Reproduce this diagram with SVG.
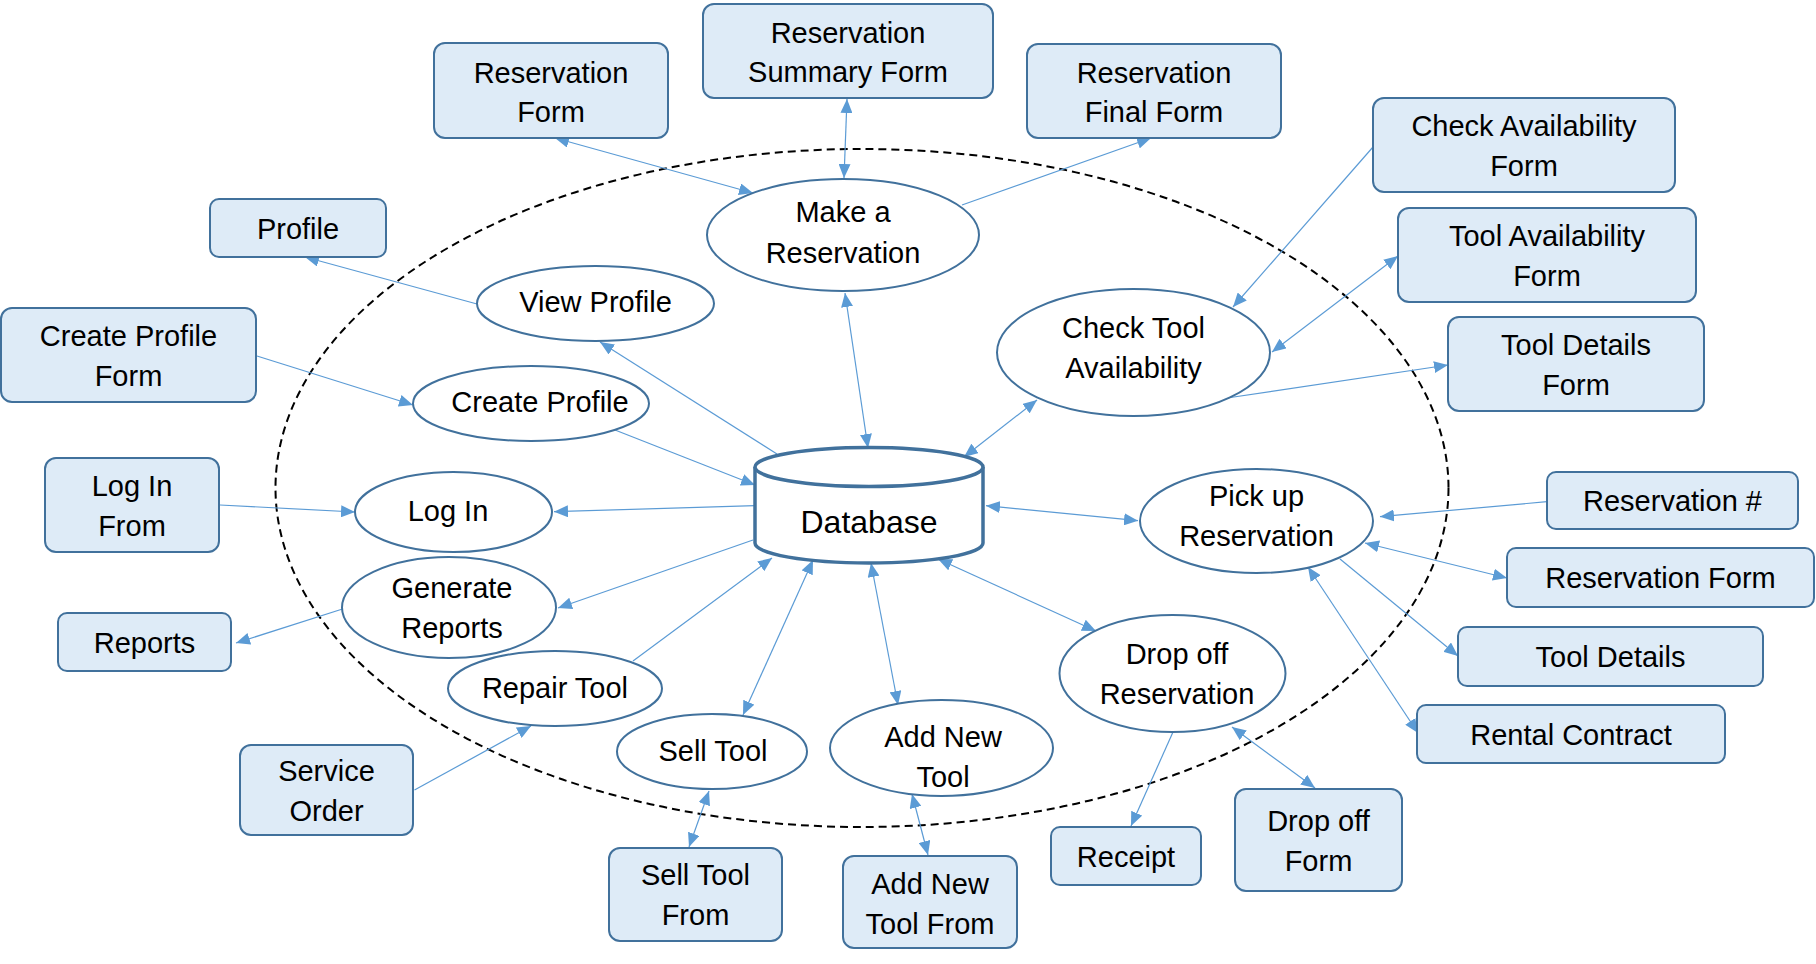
<svg xmlns="http://www.w3.org/2000/svg" width="1816" height="964" viewBox="0 0 1816 964">
<style>
.box{fill:#DEEBF7;stroke:#41719C;stroke-width:2}
.ell{fill:#FFFFFF;stroke:#41719C;stroke-width:2}
.db{fill:#FFFFFF;stroke:#41719C;stroke-width:3.5}
.t{font-family:"Liberation Sans",Arial,sans-serif;font-size:29px;fill:#000;text-anchor:middle}
.tdb{font-family:"Liberation Sans",Arial,sans-serif;font-size:32px;fill:#000;text-anchor:middle}
.c{stroke:#5B9BD5;stroke-width:1.2;fill:none}
.e{marker-end:url(#ah)}
.b{marker-end:url(#ah);marker-start:url(#ahs)}
</style>
<defs>
<marker id="ah" markerUnits="userSpaceOnUse" markerWidth="14" markerHeight="12" viewBox="0 0 14 12" refX="14" refY="6" orient="auto"><path d="M0,0 L14,6 L0,12 Z" fill="#5B9BD5"/></marker>
<marker id="ahs" markerUnits="userSpaceOnUse" markerWidth="14" markerHeight="12" viewBox="0 0 14 12" refX="14" refY="6" orient="auto-start-reverse"><path d="M0,0 L14,6 L0,12 Z" fill="#5B9BD5"/></marker>
</defs>
<rect width="1816" height="964" fill="#FFFFFF"/>
<ellipse id="boundary" cx="862" cy="488" rx="586.5" ry="339" fill="none" stroke="#000" stroke-width="2" stroke-dasharray="8,5"/>
<g id="connectors">
<line class="c b" x1="555" y1="138" x2="753" y2="193"/>
<line class="c b" x1="847" y1="99" x2="844" y2="178"/>
<line class="c e" x1="962" y1="205" x2="1151" y2="138"/>
<line class="c e" x1="477" y1="304" x2="305" y2="257"/>
<line class="c e" x1="777" y1="454" x2="600" y2="342"/>
<line class="c b" x1="845" y1="293" x2="868" y2="448"/>
<line class="c e" x1="257" y1="356" x2="413" y2="405"/>
<line class="c e" x1="615" y1="430" x2="755" y2="485"/>
<line class="c e" x1="1373" y1="147" x2="1233" y2="307"/>
<line class="c b" x1="1398" y1="256" x2="1272" y2="352"/>
<line class="c e" x1="1227" y1="398" x2="1448" y2="365"/>
<line class="c b" x1="964" y1="457" x2="1037" y2="400"/>
<line class="c e" x1="220" y1="505" x2="355" y2="512"/>
<line class="c e" x1="755" y1="505.7" x2="554" y2="511.7"/>
<line class="c e" x1="753" y1="540" x2="558" y2="608"/>
<line class="c e" x1="342.5" y1="609" x2="236" y2="643"/>
<line class="c e" x1="633" y1="661" x2="772" y2="558"/>
<line class="c e" x1="414.5" y1="790" x2="531" y2="726"/>
<line class="c b" x1="743" y1="715" x2="813" y2="560"/>
<line class="c b" x1="871" y1="563" x2="898" y2="705"/>
<line class="c b" x1="709" y1="791" x2="689" y2="847"/>
<line class="c b" x1="912" y1="794" x2="928" y2="855"/>
<line class="c b" x1="986" y1="505.7" x2="1138" y2="520.7"/>
<line class="c b" x1="938" y1="559" x2="1096" y2="631"/>
<line class="c e" x1="1547" y1="501.7" x2="1380" y2="516.7"/>
<line class="c b" x1="1365" y1="543" x2="1507" y2="578"/>
<line class="c e" x1="1340" y1="559" x2="1458" y2="656"/>
<line class="c b" x1="1308" y1="567" x2="1418" y2="733"/>
<line class="c e" x1="1173" y1="732" x2="1131" y2="826"/>
<line class="c b" x1="1232" y1="727" x2="1315" y2="788"/>
</g>
<g id="db"><path class="db" d="M755,467 A114,19.5 0 0 1 983,467 L983,543 A114,20 0 0 1 755,543 Z"/><path class="db" d="M755,467 A114,19.5 0 0 0 983,467"/><text class="tdb" x="869" y="533">Database</text></g>
<g id="make-reservation"><ellipse class="ell" cx="843" cy="235" rx="136" ry="56"/><text class="t" x="843" y="222">Make a</text><text class="t" x="843" y="263">Reservation</text></g>
<g id="view-profile"><ellipse class="ell" cx="595.5" cy="303.5" rx="118.5" ry="37.5"/><text class="t" x="595.5" y="312">View Profile</text></g>
<g id="create-profile"><ellipse class="ell" cx="531" cy="403.5" rx="118" ry="37.5"/><text class="t" x="540" y="412">Create Profile</text></g>
<g id="log-in"><ellipse class="ell" cx="453.5" cy="512" rx="98.5" ry="40"/><text class="t" x="448" y="521">Log In</text></g>
<g id="generate-reports"><ellipse class="ell" cx="449" cy="607.5" rx="107" ry="50.5"/><text class="t" x="452" y="598">Generate</text><text class="t" x="452" y="638">Reports</text></g>
<g id="repair-tool"><ellipse class="ell" cx="555" cy="688.5" rx="107" ry="37.5"/><text class="t" x="555" y="698">Repair Tool</text></g>
<g id="sell-tool"><ellipse class="ell" cx="712" cy="751.5" rx="95" ry="37.5"/><text class="t" x="713" y="761">Sell Tool</text></g>
<g id="add-new-tool"><ellipse class="ell" cx="941.5" cy="748" rx="111.5" ry="48"/><text class="t" x="943" y="747">Add New</text><text class="t" x="943" y="787">Tool</text></g>
<g id="check-tool-availability"><ellipse class="ell" cx="1133.5" cy="352.5" rx="136.5" ry="63.5"/><text class="t" x="1133.5" y="338">Check Tool</text><text class="t" x="1133.5" y="378">Availability</text></g>
<g id="pick-up-reservation"><ellipse class="ell" cx="1256.5" cy="521" rx="116.5" ry="52"/><text class="t" x="1256.5" y="506">Pick up</text><text class="t" x="1256.5" y="546">Reservation</text></g>
<g id="drop-off-reservation"><ellipse class="ell" cx="1172.5" cy="673.5" rx="113" ry="58.5"/><text class="t" x="1177" y="664">Drop off</text><text class="t" x="1177" y="704">Reservation</text></g>
<g id="reservation-form"><rect class="box" x="434" y="43" width="234" height="95" rx="11"/><text class="t" x="551" y="83">Reservation</text><text class="t" x="551" y="122">Form</text></g>
<g id="reservation-summary-form"><rect class="box" x="703" y="4" width="290" height="94" rx="11"/><text class="t" x="848" y="43">Reservation</text><text class="t" x="848" y="82">Summary Form</text></g>
<g id="reservation-final-form"><rect class="box" x="1027" y="44" width="254" height="94" rx="11"/><text class="t" x="1154" y="83">Reservation</text><text class="t" x="1154" y="122">Final Form</text></g>
<g id="check-availability-form"><rect class="box" x="1373" y="98" width="302" height="94" rx="11"/><text class="t" x="1524" y="136">Check Availability</text><text class="t" x="1524" y="176">Form</text></g>
<g id="tool-availability-form"><rect class="box" x="1398" y="208" width="298" height="94" rx="11"/><text class="t" x="1547" y="246">Tool Availability</text><text class="t" x="1547" y="286">Form</text></g>
<g id="tool-details-form"><rect class="box" x="1448" y="317" width="256" height="94" rx="11"/><text class="t" x="1576" y="355">Tool Details</text><text class="t" x="1576" y="395">Form</text></g>
<g id="profile"><rect class="box" x="210" y="199" width="176" height="58" rx="9"/><text class="t" x="298" y="239">Profile</text></g>
<g id="create-profile-form"><rect class="box" x="1" y="308" width="255" height="94" rx="11"/><text class="t" x="128.5" y="346">Create Profile</text><text class="t" x="128.5" y="386">Form</text></g>
<g id="log-in-from"><rect class="box" x="45" y="458" width="174" height="94" rx="11"/><text class="t" x="132" y="496">Log In</text><text class="t" x="132" y="536">From</text></g>
<g id="reports"><rect class="box" x="58" y="613" width="173" height="58" rx="9"/><text class="t" x="144.5" y="653">Reports</text></g>
<g id="service-order"><rect class="box" x="240" y="745" width="173" height="90" rx="11"/><text class="t" x="326.5" y="781">Service</text><text class="t" x="326.5" y="821">Order</text></g>
<g id="sell-tool-from"><rect class="box" x="609" y="848" width="173" height="93" rx="11"/><text class="t" x="695.5" y="885">Sell Tool</text><text class="t" x="695.5" y="925">From</text></g>
<g id="add-new-tool-from"><rect class="box" x="843" y="856" width="174" height="92" rx="11"/><text class="t" x="930" y="894">Add New</text><text class="t" x="930" y="934">Tool From</text></g>
<g id="receipt"><rect class="box" x="1051" y="827" width="150" height="58" rx="9"/><text class="t" x="1126" y="867">Receipt</text></g>
<g id="drop-off-form"><rect class="box" x="1235" y="789" width="167" height="102" rx="11"/><text class="t" x="1318.5" y="831">Drop off</text><text class="t" x="1318.5" y="871">Form</text></g>
<g id="reservation-number"><rect class="box" x="1547" y="472" width="251" height="57" rx="9"/><text class="t" x="1672.5" y="511">Reservation #</text></g>
<g id="reservation-form-2"><rect class="box" x="1507" y="548" width="307" height="59" rx="9"/><text class="t" x="1660.5" y="588">Reservation Form</text></g>
<g id="tool-details"><rect class="box" x="1458" y="627" width="305" height="59" rx="9"/><text class="t" x="1610.5" y="667">Tool Details</text></g>
<g id="rental-contract"><rect class="box" x="1417" y="705" width="308" height="58" rx="9"/><text class="t" x="1571" y="745">Rental Contract</text></g>
</svg>
